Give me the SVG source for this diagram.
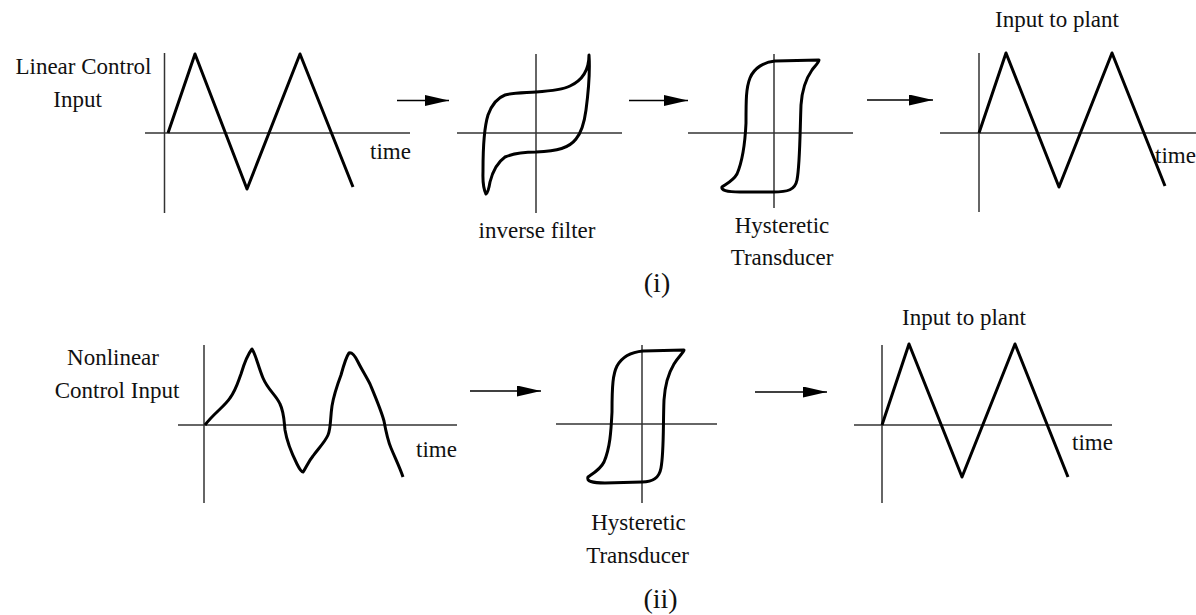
<svg xmlns="http://www.w3.org/2000/svg" width="1196" height="615" viewBox="0 0 1196 615">
<defs>
<marker id="ah" markerUnits="userSpaceOnUse" markerWidth="24" markerHeight="11" refX="24" refY="5.5" orient="auto"><path d="M0,0 L24,5.5 L0,11 Z" fill="#000"/></marker>
<style>
.ax{stroke:#333;stroke-width:1.5;fill:none}
.cv{stroke:#000;stroke-width:3;fill:none;stroke-linejoin:round;stroke-linecap:butt}
.ar{stroke:#000;stroke-width:1.5;fill:none}
text{font-family:"Liberation Serif","Times New Roman",serif;font-size:23px;fill:#111}
.big{font-size:28px}
</style>
</defs>
<rect width="1196" height="615" fill="#fff"/>

<g id="linear-input">
<line class="ax" x1="164.5" y1="53" x2="164.5" y2="213"/>
<line class="ax" x1="145" y1="133" x2="410" y2="133"/>
<polyline class="cv" points="168,133 195,54 247,189 300,54 353,187"/>
<text x="83.5" y="74" text-anchor="middle">Linear Control</text>
<text x="77.5" y="107" text-anchor="middle">Input</text>
<text x="370" y="159">time</text>
</g>

<g id="inverse-filter">
<line class="ax" x1="536" y1="54" x2="536" y2="213"/>
<line class="ax" x1="457" y1="133" x2="622" y2="133"/>
<path class="cv" d="M486,194 C482,186 483,178 483,170 C483,150 484,128 488,115 C492,104 497,98 505,95 C512,93 520,93 536,92 C550,91 562,90 570,86 C583,80 589,70 589,55 C590,70 588,95 586,110 C584,125 581,133 576,139 C569,148 558,151 536,152 C520,152 512,154 505,157 C498,162 493,170 490,182 C489,188 488,193 486,194 Z"/>
<text x="537" y="238" text-anchor="middle">inverse filter</text>
</g>

<g id="hysteretic-1">
<line class="ax" x1="774" y1="54" x2="774" y2="208"/>
<line class="ax" x1="688" y1="133" x2="853" y2="133"/>
<path class="cv" d="M819,60 L775,61 C764,62 754,68 750,78 C746,88 746,100 746,123 C745,145 743,160 737,174 C733,181 726,184 722,187 C721,190 726,192 740,192 L773,192 C788,192 795,190 797,180 C800,165 800,130 801,105 C802,90 805,80 812,70 C816,65 819,62 819,60 Z"/>
<text x="782" y="233" text-anchor="middle">Hysteretic</text>
<text x="782" y="265" text-anchor="middle">Transducer</text>
</g>

<g id="plant-input-1">
<line class="ax" x1="979" y1="53" x2="979" y2="212"/>
<line class="ax" x1="940" y1="133" x2="1196" y2="133"/>
<polyline class="cv" points="979,133 1006,53 1059,187 1112,53 1165,186"/>
<text x="1057" y="27" text-anchor="middle">Input to plant</text>
<text x="1155" y="163">time</text>
</g>

<text x="657" y="292" text-anchor="middle" class="big">(i)</text>

<g id="nonlinear-input">
<line class="ax" x1="204" y1="345" x2="204" y2="503"/>
<line class="ax" x1="178" y1="425" x2="457" y2="425"/>
<path class="cv" d="M205,425 C213,414 225,406 230,398 C236,390 238,382 241,374 C244,364 248,354 252,349 C256,355 258,366 263,378 C268,390 276,395 280,404 C284,412 284,420 285,430 C287,442 293,456 297,464 C300,470 302,472 303,472 C306,468 308,462 313,456 C318,449 325,442 328,435 C331,428 330,420 332,406 C334,394 338,383 341,375 C344,364 346,357 349,353 C352,352 355,356 358,362 C362,370 366,376 370,384 C375,396 381,410 384,421 C386,432 388,441 391,448 C396,460 400,468 403,477"/>
<text x="113" y="365" text-anchor="middle">Nonlinear</text>
<text x="117" y="398" text-anchor="middle">Control Input</text>
<text x="416" y="457">time</text>
</g>

<g id="hysteretic-2">
<line class="ax" x1="642" y1="345" x2="642" y2="503"/>
<line class="ax" x1="556" y1="424" x2="717" y2="424"/>
<path class="cv" d="M684,350 L643,351 C632,352 622,357 617,366 C613,374 612,385 612,412 C611,432 610,448 604,462 C600,470 592,474 588,477 C586,481 592,483 605,483 L642,482 C652,482 659,479 661,468 C664,452 663,425 664,400 C665,384 668,374 674,364 C679,356 684,352 684,350 Z"/>
<text x="638.5" y="530" text-anchor="middle">Hysteretic</text>
<text x="637.5" y="563" text-anchor="middle">Transducer</text>
</g>

<g id="plant-input-2">
<line class="ax" x1="882" y1="345" x2="882" y2="503"/>
<line class="ax" x1="854" y1="425" x2="1112" y2="425"/>
<polyline class="cv" points="882,425 909,344 962,477 1015,344 1068,477"/>
<text x="964" y="325" text-anchor="middle">Input to plant</text>
<text x="1072" y="450">time</text>
</g>

<text x="660.5" y="608" text-anchor="middle" class="big">(ii)</text>

<g id="connectors">
<line class="ar" x1="397" y1="100.5" x2="449" y2="100.5" marker-end="url(#ah)"/>
<line class="ar" x1="629" y1="100.5" x2="688" y2="100.5" marker-end="url(#ah)"/>
<line class="ar" x1="867" y1="100" x2="933" y2="100" marker-end="url(#ah)"/>
<line class="ar" x1="470" y1="391" x2="541" y2="391" marker-end="url(#ah)"/>
<line class="ar" x1="755" y1="392" x2="827" y2="392" marker-end="url(#ah)"/>
</g>
</svg>
